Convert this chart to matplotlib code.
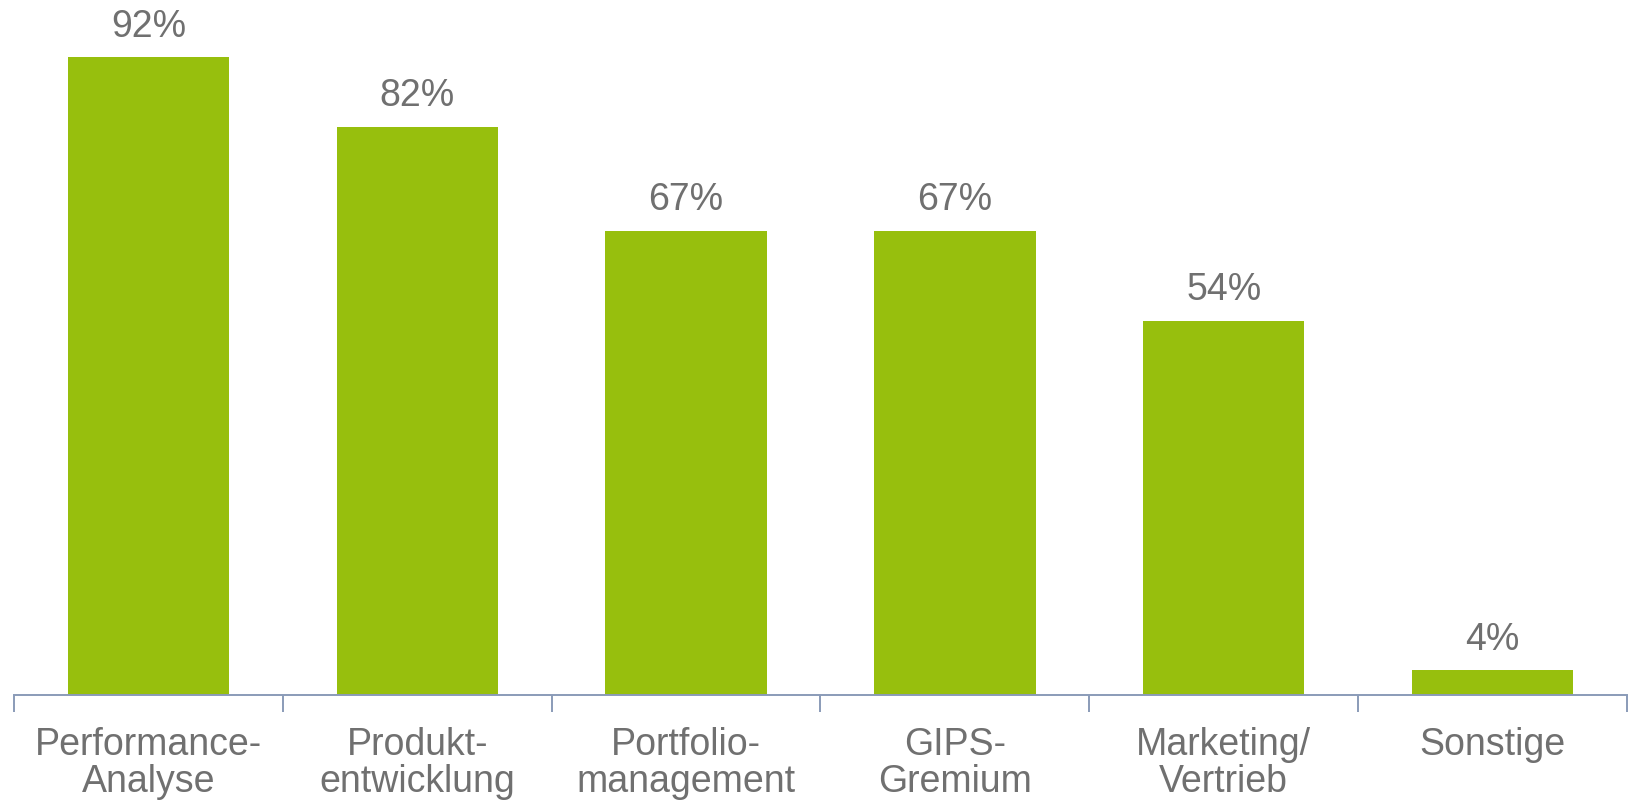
import matplotlib.pyplot as plt
import numpy as np

categories = ["Performance-\nAnalyse", "Produkt-\nentwicklung", "Portfolio-\nmanagement",
              "GIPS-\nGremium", "Marketing/\nVertrieb", "Sonstige"]
values = [92, 82, 67, 67, 54, 3.6]

plt.rcParams['font.family'] = ['Liberation Sans', 'DejaVu Sans']

fig = plt.figure(figsize=(16.31, 8.02), dpi=100)
ax = fig.add_axes([0.00858, 0.1334, 0.98897, 0.8641])

x = np.arange(len(categories))
bars = ax.bar(x, values, width=0.6, color='#97BF0D')

for b, v in zip(bars, values):
    ax.text(b.get_x() + b.get_width() / 2, v + 1.8, f"{v:.0f}%", ha='center', va='bottom',
            fontsize=27, color='#707070')

ax.set_xlim(-0.5, len(categories) - 0.5)
ax.set_ylim(0, 100)
ax.set_xticks(x)
ax.set_xticklabels(categories, fontsize=27, color='#707070', linespacing=1.04)
ax.set_xticks(np.arange(-0.5, len(categories)), minor=True)
ax.tick_params(axis='x', which='major', length=0, pad=23)
ax.tick_params(axis='x', which='minor', length=12, width=1.4, color='#8A9BB8', direction='out')
ax.set_yticks([])
for s in ['top', 'right', 'left']:
    ax.spines[s].set_visible(False)
ax.spines['bottom'].set_color('#8A9BB8')
ax.spines['bottom'].set_linewidth(1.4)
ax.patch.set_alpha(0)

fig.savefig('out.png', dpi=100)
